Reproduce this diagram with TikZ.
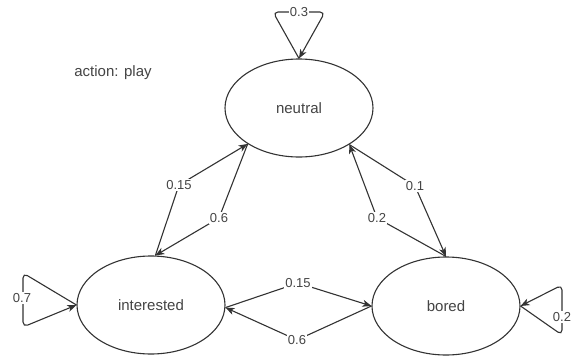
\documentclass[tikz,border=0pt]{standalone}
\usepackage{fontspec}
\setmainfont{Liberation Sans}
\usetikzlibrary{arrows.meta,shapes.geometric}
\definecolor{linec}{HTML}{333333}
\definecolor{textc}{HTML}{444444}
\begin{document}
\begin{tikzpicture}[x=1pt,y=-1pt,
  state/.style={ellipse,draw=linec,line width=1.1pt,minimum width=148pt,minimum height=98pt,inner sep=0pt,text=textc,font=\fontsize{15}{17}\selectfont},
  edge/.style={draw=linec,line width=1.1pt,-{Stealth[length=9pt,width=7pt,inset=2.5pt]}},
  loopedge/.style={edge,rounded corners=5pt},
  lbl/.style={fill=white,inner sep=1pt,text=textc,font=\fontsize{13}{15}\selectfont}]
\useasboundingbox (0,0) rectangle (574,356);
\fill[white] (0,0) rectangle (574,356);
\node[state] (neutral) at (299,108) {neutral};
\node[state] (interested) at (151,305) {interested};
\node[state] (bored) at (446,306) {bored};
\node[text=textc,font=\fontsize{15}{17}\selectfont] (action) at (113,73) {action: play};
% waypoints
\coordinate (w1) at (179,185);
\coordinate (w2) at (219,218);
\coordinate (w3) at (415,186);
\coordinate (w4) at (377,218);
\coordinate (w5) at (298,283);
\coordinate (w6) at (297,340);
\coordinate (l1a) at (273,12);
\coordinate (l1b) at (325,12);
\coordinate (l2a) at (23,273);
\coordinate (l2b) at (23,327);
\coordinate (l3a) at (562,335);
\coordinate (l3b) at (562,285);
% edges
\draw[edge] (interested.85) -- (w1) -- (neutral.215);
\draw[edge] (neutral.215) -- (w2) -- (interested.85);
\draw[edge] (neutral.324) -- (w3) -- (bored.90);
\draw[edge] (bored.90) -- (w4) -- (neutral.324);
\draw[edge] (interested.-2) -- (w5) -- (bored.180);
\draw[edge] (bored.180) -- (w6) -- (interested.-2);
\draw[loopedge] (neutral.90) -- (l1a) -- (l1b) -- (neutral.90);
\draw[loopedge] (interested.180) -- (l2a) -- (l2b) -- (interested.180);
\draw[loopedge] (bored.0) -- (l3a) -- (l3b) -- (bored.0);
% labels
\node[lbl] (p1) at (w1) {0.15};
\node[lbl] (p2) at (w2) {0.6};
\node[lbl] (p3) at (w3) {0.1};
\node[lbl] (p4) at (w4) {0.2};
\node[lbl] (p5) at (w5) {0.15};
\node[lbl] (p6) at (w6) {0.6};
\node[lbl] (p7) at (299,12) {0.3};
\node[lbl] (p8) at (22,298) {0.7};
\node[lbl] (p9) at (562,317) {0.2};
\end{tikzpicture}
\end{document}
